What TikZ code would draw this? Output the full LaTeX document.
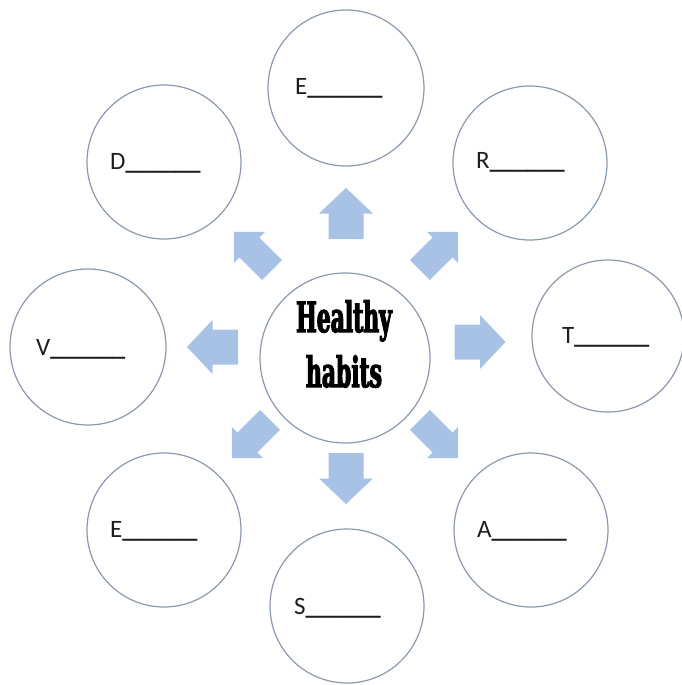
\documentclass[tikz,border=0pt]{standalone}
\usepackage{fontspec}
\setmainfont{Carlito}
\newfontfamily\headfont{DejaVu Serif}[FakeStretch=0.52,FakeBold=2.5]
\newfontfamily\lineface{Carlito}[FakeBold=1.2]
\usetikzlibrary{calc}
\definecolor{ringgray}{RGB}{140,152,172}
\definecolor{arrowblue}{RGB}{168,194,229}
\definecolor{inkgray}{RGB}{30,30,30}
\newcommand{\blankline}{{\lineface\_\_\_\_\_\_}}
\tikzset{
  bubble/.style={circle, draw=ringgray, line width=1.2pt, fill=white, minimum size=154pt, inner sep=0pt},
  hub/.style={circle, draw=ringgray, line width=1.2pt, fill=white, minimum size=170pt, inner sep=0pt},
  answer/.style={anchor=base west, inner sep=0pt, text=inkgray, font=\fontsize{25}{30}\selectfont},
  hubtext/.style={align=center, inner sep=0pt, font=\headfont\bfseries\fontsize{42}{55}\selectfont},
  sarrow/.pic={\fill[arrowblue] (-25.5,-17.5) -- (0,-17.5) -- (0,-27) -- (25.5,0) -- (0,27) -- (0,17.5) -- (-25.5,17.5) -- cycle;},
  darrow/.pic={\fill[arrowblue] (-27,-14) -- (5,-14) -- (5,-22) -- (27,0) -- (5,22) -- (5,14) -- (-27,14) -- cycle;}
}
\begin{document}
\begin{tikzpicture}[x=1pt,y=-1pt]
\useasboundingbox (0,0) rectangle (682,685);
% outer circles
\node[bubble, minimum size=156pt] (etop) at (346,88) {};
\node[bubble] (rr) at (530,163) {};
\node[bubble, minimum size=152pt] (tt) at (608,336) {};
\node[bubble] (aa) at (531,530) {};
\node[bubble] (ss) at (347,606) {};
\node[bubble] (ebot) at (164,530) {};
\node[bubble] (dd) at (164,162) {};
\node[bubble, minimum size=156pt] (vv) at (88,347) {};
% centre
\node[hub] (hub) at (345,358) {};
\node[hubtext] (hubt) at (344,344) {Healthy\\habits};
% answer texts
\node[answer] (etopt) at (295,94) {E\blankline};
\node[answer] (rrt) at (476,168) {R\blankline};
\node[answer] (ttt) at (562,343) {T\blankline};
\node[answer] (aat) at (477,537) {A\blankline};
\node[answer] (sst) at (294,614) {S\blankline};
\node[answer] (ebott) at (110,537) {E\blankline};
\node[answer] (ddt) at (110,169) {D\blankline};
\node[answer] (vvt) at (36,355) {V\blankline};
% arrows
\pic[rotate=90] at (346,213.5) {sarrow};
\pic[rotate=-90] at (346,478.5) {sarrow};
\pic[rotate=180] at (212.5,347) {sarrow};
\pic at (480,342) {sarrow};
\pic[rotate=135] at (253,251) {darrow};
\pic[rotate=45] at (439,251) {darrow};
\pic[rotate=-135] at (251,439) {darrow};
\pic[rotate=-45] at (439,439) {darrow};
\end{tikzpicture}
\end{document}
